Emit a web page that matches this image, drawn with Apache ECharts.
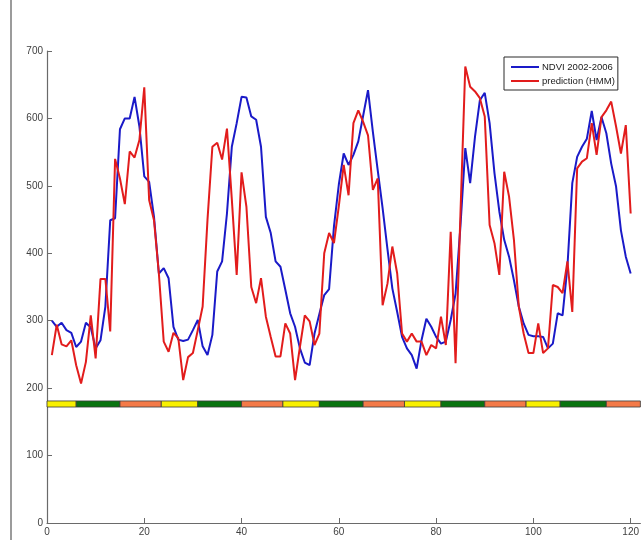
<!DOCTYPE html>
<html>
<head>
<meta charset="utf-8">
<script src="https://cdn.jsdelivr.net/npm/echarts@6/dist/echarts.min.js"></script>
<style>
html,body{margin:0;padding:0;background:#fff;}
#chart{width:642px;height:540px;}
</style>
</head>
<body>
<div id="chart"></div>
<script>
// NDVI observations (x = 1..120)
var ndvi = [300,291,297,286,282,261,269,297,290,259,
            271,321,449,452,584,600,600,632,588,514,
            506,454,370,378,363,291,272,270,272,286,
            301,262,249,279,373,388,459,558,593,632,
            631,603,598,558,454,430,388,380,346,311,
            291,259,238,234,281,310,338,347,440,502,
            548,531,546,566,604,642,580,523,467,406,
            348,313,276,259,249,229,271,303,291,276,
            266,269,301,340,440,556,504,573,627,638,
            593,519,462,420,395,360,321,296,279,277,
            277,276,259,266,311,308,380,504,543,558,
            570,611,568,602,578,533,499,434,395,370];
// HMM prediction (x = 1..120)
var prediction = [249,294,265,262,271,234,207,239,308,244,
                  362,362,284,540,511,473,551,542,568,646,
                  479,449,370,269,254,282,274,212,246,252,
                  286,321,450,558,564,539,585,480,368,520,
                  469,350,326,363,306,276,247,247,296,281,
                  212,261,308,299,264,281,400,430,415,470,
                  531,486,593,612,595,575,494,511,323,355,
                  410,370,281,269,281,269,269,249,264,259,
                  306,264,432,237,457,677,647,640,630,603,
                  442,415,368,521,484,420,321,281,252,252,
                  296,252,259,353,350,341,388,313,526,536,
                  541,593,546,602,612,625,588,548,590,459];
var seriesNames = ['NDVI 2002-2006', 'prediction (HMM)'];
// state band segments
var bandStart = [0, 6, 15, 23.5, 31, 40, 48.5, 56, 65, 73.5, 81, 90, 98.5, 105.5, 115];
var bandEnd   = [6, 15, 23.5, 31, 40, 48.5, 56, 65, 73.5, 81, 90, 98.5, 105.5, 115, 122];
var bandState = ['Y','G','O','Y','G','O','Y','G','O','Y','G','O','Y','G','O'];
var bandLow = 172, bandHigh = 181;
var xTicks = [0, 20, 40, 60, 80, 100, 120];

var stateColor = {Y: '#f8f000', G: '#0a7410', O: '#f47a48'};

function toPairs(arr) {
  return arr.map(function (v, i) { return [i + 1, v]; });
}

var bandAreas = bandStart.map(function (s, i) {
  return [
    {xAxis: s, yAxis: bandLow, itemStyle: {color: stateColor[bandState[i]], borderColor: '#3a3a3a', borderWidth: 0.8}},
    {xAxis: bandEnd[i], yAxis: bandHigh}
  ];
});

var chart = echarts.init(document.getElementById('chart'), null, {renderer: 'canvas'});
var font = '"Liberation Sans", Arial, Helvetica, sans-serif';
chart.setOption({
  animation: false,
  backgroundColor: '#ffffff',
  textStyle: {fontFamily: font},
  grid: {left: 47, top: 51, width: 596.2, height: 472, containLabel: false},
  xAxis: {
    type: 'value', min: 0, max: 122, interval: 20,
    axisLine: {show: true, lineStyle: {color: '#6a6a6a', width: 1.2}},
    axisTick: {show: true, inside: true, length: 5, lineStyle: {color: '#6a6a6a'}},
    axisLabel: {
      color: '#404040', fontSize: 10, fontFamily: font, margin: 4,
      showMaxLabel: false,
      formatter: function (v) { return xTicks.indexOf(v) >= 0 ? String(v) : ''; }
    },
    splitLine: {show: false}
  },
  yAxis: {
    type: 'value', min: 0, max: 700, interval: 100,
    axisLine: {show: true, lineStyle: {color: '#6a6a6a', width: 1.2}},
    axisTick: {show: true, inside: true, length: 5, lineStyle: {color: '#6a6a6a'}},
    axisLabel: {color: '#404040', fontSize: 10, fontFamily: font, margin: 4},
    splitLine: {show: false}
  },
  legend: {
    orient: 'vertical', left: 504, top: 57,
    data: seriesNames,
    icon: 'rect', itemWidth: 28, itemHeight: 2, itemGap: 2,
    padding: [4, 3, 3, 7],
    backgroundColor: '#ffffff', borderColor: '#2a2a2a', borderWidth: 1, borderRadius: 0,
    textStyle: {fontSize: 9.5, color: '#202020', fontFamily: font, lineHeight: 12, padding: [0, 0, 0, -2]},
    selectedMode: false
  },
  graphic: [{
    type: 'line', shape: {x1: 11, y1: 0, x2: 11, y2: 540},
    style: {stroke: '#7a7a7a', lineWidth: 1.5}
  }],
  series: [
    {
      name: seriesNames[0], type: 'line', data: toPairs(ndvi),
      symbol: 'none', lineStyle: {color: '#1a1ac8', width: 2}, itemStyle: {color: '#1a1ac8'},
      z: 3,
      markArea: {silent: true, data: bandAreas}
    },
    {
      name: seriesNames[1], type: 'line', data: toPairs(prediction),
      symbol: 'none', lineStyle: {color: '#e21c1c', width: 2}, itemStyle: {color: '#e21c1c'},
      z: 4
    }
  ]
});
</script>
</body>
</html>
